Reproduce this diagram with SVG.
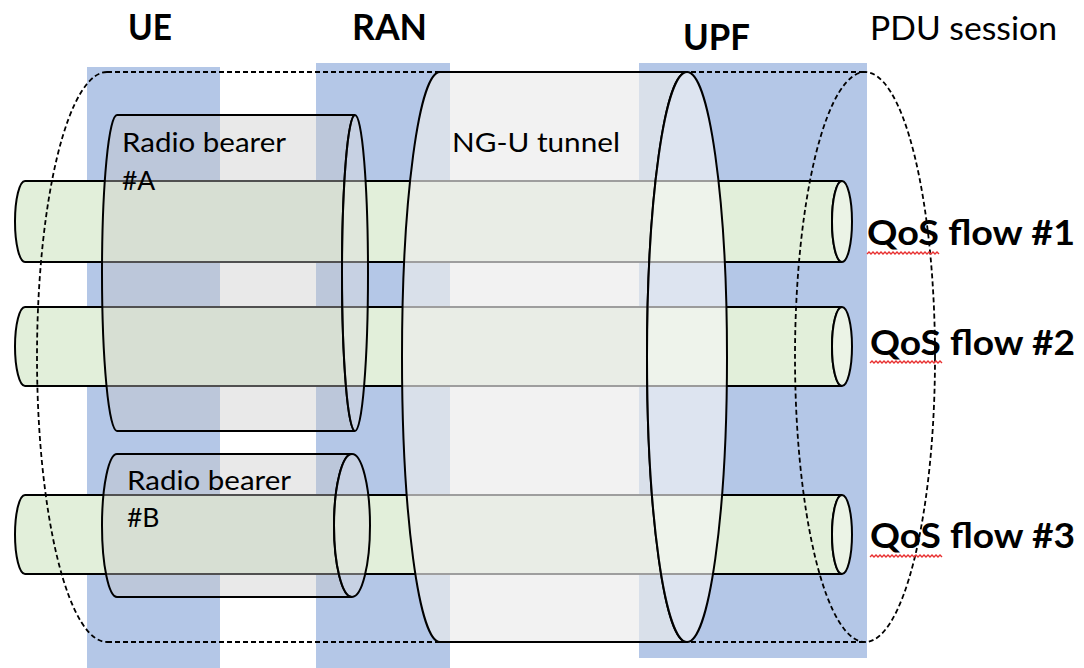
<svg xmlns="http://www.w3.org/2000/svg" xmlns:xlink="http://www.w3.org/1999/xlink" width="1084" height="668" viewBox="0 0 1084 668">
  <style>
    .col { fill: #b4c7e7; }
    .flow { fill: #e2efda; stroke: #000; stroke-width: 2; }
    .flowface { fill: #ebf3e6; stroke: #000; stroke-width: 2; }
    .bearer { fill: #c8c8c8; fill-opacity: 0.4; stroke: #000; stroke-width: 2; }
    .bearerface { fill: #dedede; fill-opacity: 0.45; stroke: #000; stroke-width: 2; }
    .tunnel { fill: #ececec; fill-opacity: 0.67; stroke: #000; stroke-width: 2; }
    .tunnelface { fill: #f5f5f5; fill-opacity: 0.63; stroke: #000; stroke-width: 2; }
    .pdu { fill: none; stroke: #000; stroke-width: 1.8; stroke-dasharray: 5 3; }
    .hdr { font-family: Lato, "Liberation Sans", sans-serif; font-weight: bold; font-size: 37px; fill: #000; }
    .lbl { font-family: Lato, "Liberation Sans", sans-serif; font-size: 26.5px; fill: #000; }
    .pdutxt { font-family: Lato, "Liberation Sans", sans-serif; font-size: 32px; fill: #000; }
    .qos { font-family: Lato, "Liberation Sans", sans-serif; font-weight: bold; font-size: 35px; fill: #000; }
    .squig { fill: none; stroke: #e83030; stroke-width: 1.4; }
  </style>
  <defs>
    <path id="squiggle" d="M0,0 l2,-2 l2,2 l2,-2 l2,2 l2,-2 l2,2 l2,-2 l2,2 l2,-2 l2,2 l2,-2 l2,2 l2,-2 l2,2 l2,-2 l2,2 l2,-2 l2,2 l2,-2 l2,2 l2,-2 l2,2 l2,-2 l2,2 l2,-2 l2,2 l2,-2 l2,2 l2,-2 l2,2 l2,-2 l2,2 l2,-2 l2,2 l2,-2 l2,2"/>
  </defs>
  <rect width="1084" height="668" fill="#ffffff"/>

  <g id="col-ue"><rect class="col" x="87" y="67" width="133" height="601"/></g>
  <g id="col-ran"><rect class="col" x="316" y="63" width="134" height="605"/></g>
  <g id="col-upf"><rect class="col" x="639" y="63" width="228" height="595"/></g>

  <g id="qos-flow-1">
    <path class="flow" d="M25,181 H842 A10,40.5 0 0 0 842,262 H25 A10,40.5 0 0 1 25,181 Z"/>
    <ellipse class="flowface" cx="842" cy="221.5" rx="10" ry="40.5"/>
  </g>
  <g id="qos-flow-2">
    <path class="flow" d="M25,307 H842 A10,39.5 0 0 0 842,386 H25 A10,39.5 0 0 1 25,307 Z"/>
    <ellipse class="flowface" cx="842" cy="346.5" rx="10" ry="39.5"/>
  </g>
  <g id="qos-flow-3">
    <path class="flow" d="M25,495 H842 A10,39.5 0 0 0 842,574 H25 A10,39.5 0 0 1 25,495 Z"/>
    <ellipse class="flowface" cx="842" cy="534.5" rx="10" ry="39.5"/>
  </g>

  <g id="radio-bearer-a">
    <path class="bearer" d="M117,115 H355 A13,158 0 0 0 355,431 H117 A15,158 0 0 1 117,115 Z"/>
    <ellipse class="bearerface" cx="355" cy="273" rx="13" ry="158"/>
  </g>
  <g id="radio-bearer-b">
    <path class="bearer" d="M117,454 H352 A18,71.5 0 0 0 352,597 H117 A15,71.5 0 0 1 117,454 Z"/>
    <ellipse class="bearerface" cx="352" cy="525.5" rx="18" ry="71.5"/>
  </g>

  <g id="ngu-tunnel">
    <path class="tunnel" d="M440,72 H687 A40,285 0 0 0 687,642 H440 A38,285 0 0 1 440,72 Z"/>
    <ellipse class="tunnelface" cx="687" cy="357" rx="40" ry="285"/>
  </g>

  <g id="pdu-session">
    <path class="pdu" d="M107,72 H865 M107,642 H865 M107,72 A70,285 0 0 0 107,642"/>
    <ellipse class="pdu" cx="865" cy="357" rx="70" ry="285"/>
  </g>

  <g id="connectors"></g>

  <g id="labels">
    <text class="hdr" x="128" y="40" textLength="44" lengthAdjust="spacingAndGlyphs">UE</text>
    <text class="hdr" x="352" y="40" textLength="75" lengthAdjust="spacingAndGlyphs">RAN</text>
    <text class="hdr" x="683" y="50" textLength="67" lengthAdjust="spacingAndGlyphs">UPF</text>
    <text class="pdutxt" x="870" y="40" textLength="187" lengthAdjust="spacingAndGlyphs">PDU session</text>
    <text class="lbl" x="122" y="152" textLength="164" lengthAdjust="spacingAndGlyphs">Radio bearer</text>
    <text class="lbl" x="122" y="190">#A</text>
    <text class="lbl" x="127" y="490" textLength="164" lengthAdjust="spacingAndGlyphs">Radio bearer</text>
    <text class="lbl" x="127" y="527">#B</text>
    <text class="lbl" x="452" y="152" textLength="168" lengthAdjust="spacingAndGlyphs">NG-U tunnel</text>
    <text class="qos" x="867" y="245" textLength="208" lengthAdjust="spacingAndGlyphs">QoS flow #1</text>
    <text class="qos" x="870" y="355" textLength="205" lengthAdjust="spacingAndGlyphs">QoS flow #2</text>
    <text class="qos" x="870" y="548" textLength="205" lengthAdjust="spacingAndGlyphs">QoS flow #3</text>
    <use xlink:href="#squiggle" href="#squiggle" class="squig" x="867" y="254"/>
    <use xlink:href="#squiggle" href="#squiggle" class="squig" x="870" y="363"/>
    <use xlink:href="#squiggle" href="#squiggle" class="squig" x="870" y="557"/>
  </g>
</svg>
